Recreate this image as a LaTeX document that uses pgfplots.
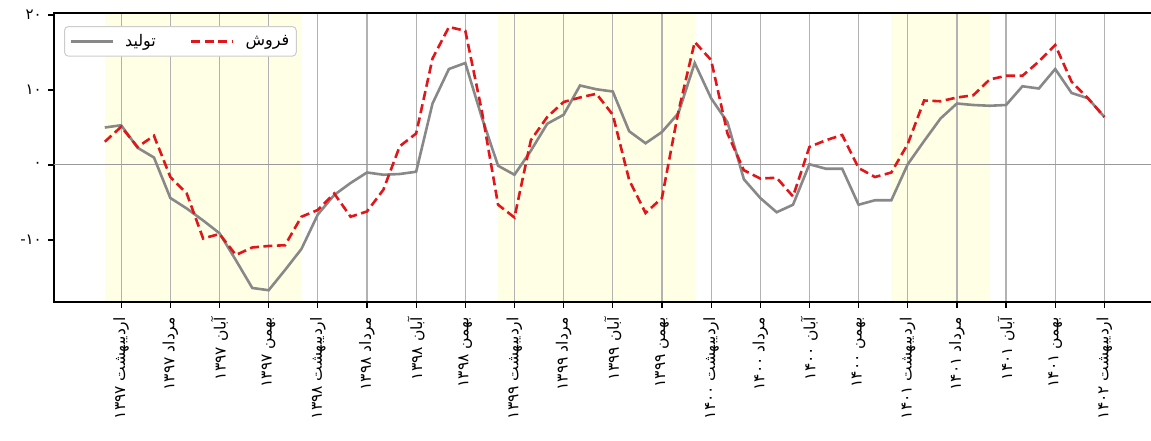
\documentclass[border=0pt]{standalone}
\usepackage{pgfplots}
\pgfplotsset{compat=1.18}
\usepackage{fontspec}
\newfontfamily\arabicfont[Script=Arabic]{DejaVu Sans}
\TeXXeTstate=1
\definecolor{shade}{HTML}{FFFFE6}
\definecolor{prodgray}{HTML}{888888}
\definecolor{salesred}{HTML}{E0161B}
\newcommand{\fa}[2]{\beginR #1 \beginL#2\endL\endR}

\pgfplotstableread{
i prod sales
0 5.0 3.1
1 5.3 5.1
2 2.3 2.4
3 1.0 3.9
4 -4.4 -1.6
5 -5.8 -3.8
6 -7.4 -9.8
7 -9.1 -9.2
8 -12.7 -12.0
9 -16.4 -11.0
10 -16.7 -10.8
11 -14.0 -10.7
12 -11.2 -6.9
13 -6.6 -6.0
14 -4.0 -3.8
15 -2.4 -6.9
16 -1.0 -6.2
17 -1.3 -3.3
18 -1.2 2.5
19 -0.9 4.2
20 8.2 14.2
21 12.8 18.4
22 13.6 17.9
23 6.4 7.3
24 -0.1 -5.3
25 -1.3 -7.0
26 1.9 3.3
27 5.5 6.4
28 6.7 8.4
29 10.6 9.0
30 10.1 9.5
31 9.8 6.7
32 4.5 -2.0
33 2.9 -6.4
34 4.4 -4.4
35 6.9 7.1
36 13.6 16.4
37 8.9 14.0
38 5.7 4.2
39 -1.9 -0.7
40 -4.4 -1.8
41 -6.3 -1.7
42 -5.3 -4.2
43 0.1 2.4
44 -0.5 3.3
45 -0.5 4.0
46 -5.3 -0.4
47 -4.7 -1.6
48 -4.7 -1.0
49 0.1 2.8
50 3.2 8.6
51 6.2 8.5
52 8.2 9.0
53 8.0 9.3
54 7.9 11.4
55 8.0 11.9
56 10.5 11.9
57 10.2 13.8
58 12.8 16.0
59 9.6 11.1
60 8.9 8.9
61 6.4 6.4
}\datatable

\begin{document}
\begin{tikzpicture}
\begin{axis}[
  name=ax,
  scale only axis,
  width=1101pt, height=289pt,
  xmin=-3.1, xmax=64.09,
  ymin=-18.27, ymax=20.27,
  set layers,
  axis line style={black, line width=1.3pt},
  tick pos=left,
  tick align=outside,
  major tick length=6pt,
  tick style={black, line width=1.2pt},
  xmajorgrids=true,
  ymajorgrids=false,
  grid style={color=black!30, line width=1.2pt},
  xtick={1,4,...,61},
  xticklabels={
    \fa{اردیبهشت}{۱۳۹۷}, \fa{مرداد}{۱۳۹۷}, \fa{آبان}{۱۳۹۷}, \fa{بهمن}{۱۳۹۷},
    \fa{اردیبهشت}{۱۳۹۸}, \fa{مرداد}{۱۳۹۸}, \fa{آبان}{۱۳۹۸}, \fa{بهمن}{۱۳۹۸},
    \fa{اردیبهشت}{۱۳۹۹}, \fa{مرداد}{۱۳۹۹}, \fa{آبان}{۱۳۹۹}, \fa{بهمن}{۱۳۹۹},
    \fa{اردیبهشت}{۱۴۰۰}, \fa{مرداد}{۱۴۰۰}, \fa{آبان}{۱۴۰۰}, \fa{بهمن}{۱۴۰۰},
    \fa{اردیبهشت}{۱۴۰۱}, \fa{مرداد}{۱۴۰۱}, \fa{آبان}{۱۴۰۱}, \fa{بهمن}{۱۴۰۱},
    \fa{اردیبهشت}{۱۴۰۲}},
  xticklabel shift=8pt,
  xticklabel style={rotate=90, anchor=east, inner sep=1pt,
    font=\arabicfont\fontsize{15.5}{15.5}\selectfont},
  ytick={-10,0,10,20},
  yticklabels={\hbox{-}\hbox{۱۰},۰,۱۰,۲۰},
  yticklabel shift=5pt,
  yticklabel style={font=\arabicfont\fontsize{15}{15}\selectfont, inner sep=1pt},
  legend columns=2,
  legend cell align=left,
  legend image code/.code={\draw[#1] (0pt,0pt) -- (42pt,0pt);},
  legend style={at={(0.0091,0.955)}, anchor=north west,
    draw=black!20, line width=1pt, rounded corners=4pt,
    font=\arabicfont\fontsize{16}{16}\selectfont,
    inner xsep=5pt, inner ysep=6pt,
    /tikz/every odd column/.append style={column sep=9pt},
    /tikz/every even column/.append style={column sep=32pt}},
]
\addplot[fill=shade, draw=none, forget plot, on layer=axis background]
  coordinates {(0,-18.27) (12,-18.27) (12,20.27) (0,20.27)} -- cycle;
\addplot[fill=shade, draw=none, forget plot, on layer=axis background]
  coordinates {(24,-18.27) (36,-18.27) (36,20.27) (24,20.27)} -- cycle;
\addplot[fill=shade, draw=none, forget plot, on layer=axis background]
  coordinates {(48,-18.27) (54,-18.27) (54,20.27) (48,20.27)} -- cycle;
\addplot[black!40, line width=1pt, forget plot] coordinates {(-5,0) (70,0)};
\addplot[prodgray, line width=2.6pt] table[x=i, y=prod] {\datatable};
\addlegendentry{\beginR تولید\endR}
\addplot[salesred, line width=2.6pt, dash pattern=on 9pt off 4.5pt] table[x=i, y=sales] {\datatable};
\addlegendentry{\beginR فروش\endR}
\end{axis}
\pgfresetboundingbox
\path[use as bounding box] ([xshift=-54pt,yshift=-139pt]ax.south west) rectangle ([xshift=-4pt,yshift=13pt]ax.north east);
\end{tikzpicture}
\end{document}
